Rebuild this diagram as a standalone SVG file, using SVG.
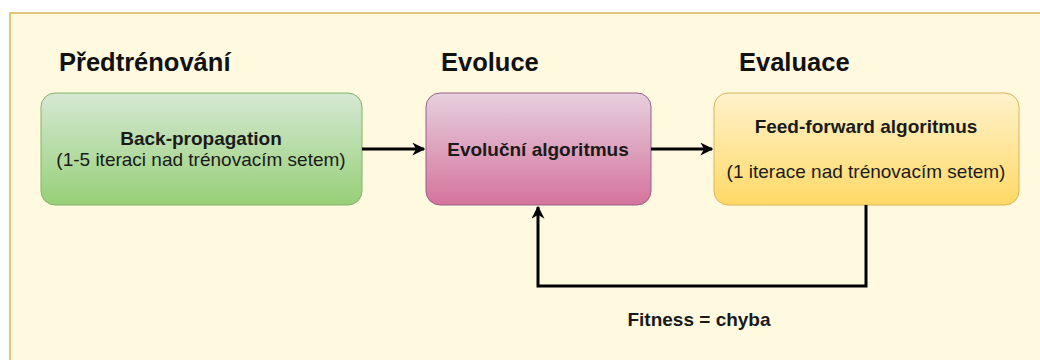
<svg xmlns="http://www.w3.org/2000/svg" width="1040" height="360" viewBox="0 0 1040 360">
<defs>
<linearGradient id="gGreen" x1="0" y1="0" x2="0" y2="1"><stop offset="0" stop-color="#d5e8d4"/><stop offset="1" stop-color="#97d077"/></linearGradient>
<linearGradient id="gPink" x1="0" y1="0" x2="0" y2="1"><stop offset="0" stop-color="#e6d0de"/><stop offset="1" stop-color="#d5739d"/></linearGradient>
<linearGradient id="gYellow" x1="0" y1="0" x2="0" y2="1"><stop offset="0" stop-color="#fff2cc"/><stop offset="1" stop-color="#ffd966"/></linearGradient>
<marker id="arr" viewBox="0 0 10 10" refX="9" refY="5" markerWidth="13" markerHeight="13" markerUnits="userSpaceOnUse" orient="auto">
<path d="M0,0 L10,5 L0,10 L3,5 Z" fill="#000"/>
</marker>
<style>
.t{font-family:"Liberation Sans",Arial,sans-serif;fill:#1a1a1a;text-anchor:middle}
.h{font-family:"Liberation Sans",Arial,sans-serif;font-weight:bold;font-size:25.5px;fill:#111}
.b{font-weight:bold;font-size:19px}
.r{font-size:19px}
.c{fill:none;stroke:#000;stroke-width:3}
</style>
</defs>
<rect x="10" y="13" width="1040" height="360" fill="#fff9e0" stroke="#d6b656" stroke-width="1.5"/>
<g id="labels">
<text class="h" x="59" y="71">Předtrénování</text>
<text class="h" x="441" y="71">Evoluce</text>
<text class="h" x="739" y="71">Evaluace</text>
</g>
<g id="node-backprop">
<rect x="41" y="93" width="321" height="112" rx="14" fill="url(#gGreen)" stroke="#82b366"/>
<text class="t b" x="201" y="145">Back-propagation</text>
<text class="t r" x="201" y="166">(1-5 iteraci nad trénovacím setem)</text>
</g>
<g id="node-evoluce">
<rect x="426" y="93" width="225" height="112" rx="14" fill="url(#gPink)" stroke="#996185"/>
<text class="t b" x="538" y="156">Evoluční algoritmus</text>
</g>
<g id="node-evaluace">
<rect x="714" y="93" width="305" height="112" rx="14" fill="url(#gYellow)" stroke="#d6b656"/>
<text class="t b" x="866" y="133">Feed-forward algoritmus</text>
<text class="t r" x="866" y="178">(1 iterace nad trénovacím setem)</text>
</g>
<g id="connectors">
<path class="c" d="M362,149 L424,149" marker-end="url(#arr)"/>
<path class="c" d="M651,149 L712,149" marker-end="url(#arr)"/>
<path class="c" d="M866,205 L866,286 L538,286 L538,207" marker-end="url(#arr)"/>
<text class="t b" x="699" y="326">Fitness = chyba</text>
</g>
</svg>
